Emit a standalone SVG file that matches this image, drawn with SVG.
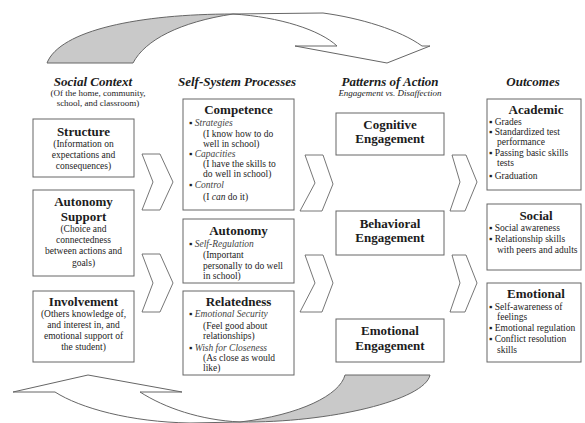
<svg xmlns="http://www.w3.org/2000/svg" width="585" height="423" viewBox="0 0 585 423">
<style>
text{font-family:"Liberation Serif","Times New Roman",serif;fill:#1c1c1c}
.box{fill:#fff;stroke:#666;stroke-width:1}
.h{font-size:13px;font-weight:bold;font-style:italic;text-anchor:middle}
.sub{font-size:9px;text-anchor:middle}
.t{font-size:13px;font-weight:bold;text-anchor:middle}
.b{font-size:9.5px}
.c{text-anchor:middle}
.i{font-style:italic;fill:#444}
.chev{fill:#fff;stroke:#666;stroke-width:0.9}
.arr{fill:#fff;stroke:#666;stroke-width:1}
.sh{fill:#c9c9c9;stroke:#666;stroke-width:1}
</style>
<rect width="585" height="423" fill="#fff"/>

<g id="connectors">
  <path class="sh" d="M47,63 C60,30 140,14 233,14 C180,22 145,40 133,63 Z"/>
  <path class="arr" d="M233,14 L323,13 C360,18 400,30 422,46 L430,46 L387,63 L295,46 L337,46 C320,30 280,17 233,14 Z"/>
  <path class="arr" d="M240,422 C200,420 165,408 140,392 L182,392 L88,375 L13,392 L55,392 C80,408 130,422 190,423 Z"/>
  <path class="sh" d="M240,422 C300,415 340,395 345,375 L430,375 C425,400 330,423 240,422 Z"/>
  <polygon class="chev" points="142,154 160,154 173,182 160,210 142,210 153,182"/>
  <polygon class="chev" points="142,254 160,254 173,283 160,312 142,312 153,283"/>
  <polygon class="chev" points="305,155 323,155 333,184 322,211 300,211 315,183"/>
  <polygon class="chev" points="305,255 323,255 333,283 322,312 300,312 315,283"/>
  <polygon class="chev" points="452,155 466,155 477,182 465,211 450,211 460,182"/>
  <polygon class="chev" points="452,255 466,255 477,283 465,312 450,312 460,283"/>
</g>

<g id="headings">
  <text class="h" x="93" y="86">Social Context</text>
  <text class="sub" x="98" y="96">(Of the home, community,</text>
  <text class="sub" x="98" y="106">school, and classroom)</text>
  <text class="h" x="237" y="86">Self-System Processes</text>
  <text class="h" x="390" y="86">Patterns of Action</text>
  <text class="sub" x="390" y="96" font-style="italic">Engagement vs. Disaffection</text>
  <text class="h" x="533" y="86">Outcomes</text>
</g>

<g id="structure">
  <rect class="box" x="33" y="119" width="101" height="58"/>
  <text class="t" x="83.5" y="136">Structure</text>
  <text class="b c" x="83.5" y="147">(Information on</text>
  <text class="b c" x="83.5" y="158">expectations and</text>
  <text class="b c" x="83.5" y="169">consequences)</text>
</g>
<g id="autonomy-support">
  <rect class="box" x="33" y="190" width="101" height="86"/>
  <text class="t" x="83.5" y="206">Autonomy</text>
  <text class="t" x="83.5" y="221">Support</text>
  <text class="b c" x="83.5" y="232">(Choice and</text>
  <text class="b c" x="83.5" y="243">connectedness</text>
  <text class="b c" x="83.5" y="254">between actions and</text>
  <text class="b c" x="83.5" y="266">goals)</text>
</g>
<g id="involvement">
  <rect class="box" x="33" y="291" width="101" height="71"/>
  <text class="t" x="83.5" y="306">Involvement</text>
  <text class="b c" x="83.5" y="317">(Others knowledge of,</text>
  <text class="b c" x="83.5" y="328">and interest in, and</text>
  <text class="b c" x="83.5" y="339">emotional support of</text>
  <text class="b c" x="83.5" y="350">the student)</text>
</g>

<g id="competence">
  <rect class="box" x="183" y="99" width="111" height="111"/>
  <text class="t" x="238.5" y="114">Competence</text>
  <text class="b" x="189" y="126">▪ <tspan class="i">Strategies</tspan></text>
  <text class="b" x="203" y="137">(I know how to do</text>
  <text class="b" x="203" y="147">well in school)</text>
  <text class="b" x="189" y="157">▪ <tspan class="i">Capacities</tspan></text>
  <text class="b" x="203" y="167">(I have the skills to</text>
  <text class="b" x="203" y="177">do well in school)</text>
  <text class="b" x="189" y="188">▪ <tspan class="i">Control</tspan></text>
  <text class="b" x="203" y="200">(I <tspan font-style="italic">can</tspan> do it)</text>
</g>
<g id="autonomy">
  <rect class="box" x="183" y="219" width="111" height="64"/>
  <text class="t" x="238.5" y="235">Autonomy</text>
  <text class="b" x="189" y="247">▪ <tspan class="i">Self-Regulation</tspan></text>
  <text class="b" x="203" y="258">(Important</text>
  <text class="b" x="203" y="269">personally to do well</text>
  <text class="b" x="203" y="279">in school)</text>
</g>
<g id="relatedness">
  <rect class="box" x="183" y="291" width="111" height="84"/>
  <text class="t" x="238.5" y="306">Relatedness</text>
  <text class="b" x="189" y="317">▪ <tspan class="i">Emotional Security</tspan></text>
  <text class="b" x="203" y="329">(Feel good about</text>
  <text class="b" x="203" y="339">relationships)</text>
  <text class="b" x="189" y="351">▪ <tspan class="i">Wish for Closeness</tspan></text>
  <text class="b" x="203" y="361">(As close as would</text>
  <text class="b" x="203" y="371">like)</text>
</g>

<g id="cognitive-engagement">
  <rect class="box" x="336" y="113" width="108" height="42"/>
  <text class="t" x="390" y="129">Cognitive</text>
  <text class="t" x="390" y="143">Engagement</text>
</g>
<g id="behavioral-engagement">
  <rect class="box" x="336" y="211" width="108" height="44"/>
  <text class="t" x="390" y="228">Behavioral</text>
  <text class="t" x="390" y="242">Engagement</text>
</g>
<g id="emotional-engagement">
  <rect class="box" x="336" y="319" width="108" height="43"/>
  <text class="t" x="390" y="335">Emotional</text>
  <text class="t" x="390" y="350">Engagement</text>
</g>

<g id="academic">
  <rect class="box" x="487" y="99" width="94" height="91"/>
  <text class="t" x="536" y="114">Academic</text>
  <text class="b" x="489" y="125">▪ Grades</text>
  <text class="b" x="489" y="135">▪ Standardized test</text>
  <text class="b" x="497" y="145">performance</text>
  <text class="b" x="489" y="156">▪ Passing basic skills</text>
  <text class="b" x="497" y="166">tests</text>
  <text class="b" x="489" y="179">▪ Graduation</text>
</g>
<g id="social">
  <rect class="box" x="487" y="204" width="94" height="66"/>
  <text class="t" x="536" y="220">Social</text>
  <text class="b" x="489" y="231">▪ Social awareness</text>
  <text class="b" x="489" y="242">▪ Relationship skills</text>
  <text class="b" x="497" y="253">with peers and adults</text>
</g>
<g id="emotional">
  <rect class="box" x="487" y="283" width="94" height="79"/>
  <text class="t" x="536" y="298">Emotional</text>
  <text class="b" x="489" y="310">▪ Self-awareness of</text>
  <text class="b" x="497" y="320">feelings</text>
  <text class="b" x="489" y="331">▪ Emotional regulation</text>
  <text class="b" x="489" y="342">▪ Conflict resolution</text>
  <text class="b" x="497" y="353">skills</text>
</g>
</svg>
